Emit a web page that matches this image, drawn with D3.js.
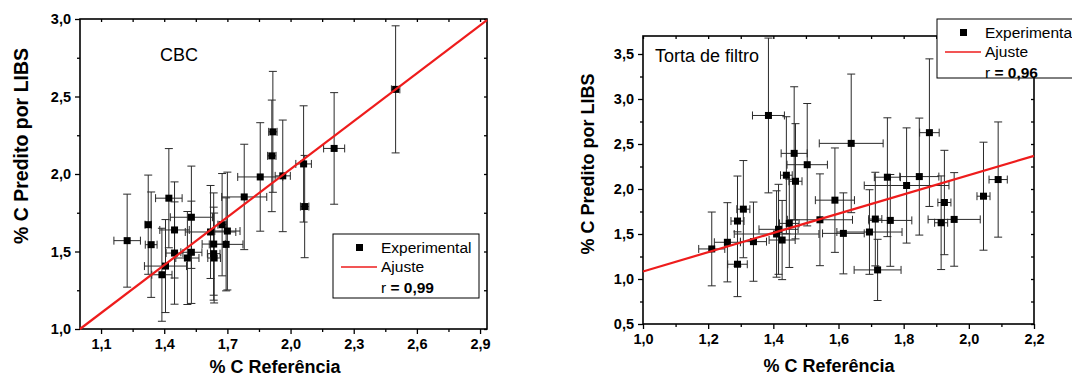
<!DOCTYPE html>
<html>
<head>
<meta charset="utf-8">
<script src="https://cdn.jsdelivr.net/npm/d3@7"></script>
<style>
  body { margin: 0; background: #fff; }
  svg { font-family: "Liberation Sans", Arial, sans-serif; }
</style>
</head>
<body>
<div id="chart"></div>
<script>
// CBC panel
const cbcRef      = [1.224, 1.324, 1.338, 1.422, 1.449, 1.449, 1.406, 1.389, 1.529, 1.510, 1.529, 1.620, 1.635, 1.635,
                     1.637, 1.675, 1.700, 1.694, 1.780, 1.856, 1.916, 1.911, 1.963, 2.062, 2.067, 2.207, 2.499];
const cbcPred     = [1.570, 1.673, 1.544, 1.844, 1.639, 1.490, 1.406, 1.350, 1.721, 1.458, 1.495, 1.626, 1.548, 1.486,
                     1.458, 1.673, 1.632, 1.546, 1.852, 1.981, 2.272, 2.117, 1.988, 2.065, 1.790, 2.165, 2.546];
const cbcRefErr   = [0.063, 0.015, 0.028, 0.063, 0.070, 0.040, 0.100, 0.048, 0.100, 0.055, 0.050, 0.120, 0.055, 0.030,
                     0.030, 0.020, 0.060, 0.080, 0.107, 0.107, 0.020, 0.020, 0.036, 0.037, 0.020, 0.050, 0.020];
const cbcPredErr  = [0.30, 0.32, 0.34, 0.32, 0.31, 0.33, 0.30, 0.30, 0.33, 0.30, 0.33, 0.30, 0.33, 0.30,
                     0.29, 0.33, 0.38, 0.30, 0.34, 0.35, 0.39, 0.36, 0.36, 0.375, 0.33, 0.36, 0.41];
const cbcFit      = [-0.031, 1.031];   // intercept, slope
const cbcXTicks   = [1.1, 1.4, 1.7, 2.0, 2.3, 2.6, 2.9];
const cbcXMinor   = [1.25, 1.55, 1.85, 2.15, 2.45, 2.75];
const cbcYTicks   = [1.0, 1.5, 2.0, 2.5, 3.0];
const cbcYMinor   = [1.25, 1.75, 2.25, 2.75];

// Torta de filtro panel
const tortaRef     = [1.211, 1.259, 1.290, 1.308, 1.290, 1.339, 1.410, 1.416, 1.427, 1.449, 1.543, 1.385, 1.464, 1.504,
                      1.440, 1.468, 1.639, 1.589, 1.615, 1.879, 1.750, 1.848, 1.809, 2.090, 2.045, 1.925, 1.955, 1.915,
                      1.713, 1.759, 1.695, 1.720];
const tortaPred    = [1.334, 1.408, 1.644, 1.776, 1.164, 1.415, 1.500, 1.552, 1.433, 1.618, 1.658, 2.817, 2.396, 2.270,
                      2.153, 2.086, 2.507, 1.876, 1.507, 2.626, 2.131, 2.138, 2.039, 2.105, 1.920, 1.850, 1.662, 1.625,
                      1.666, 1.651, 1.522, 1.101];
const tortaRefErr  = [0.040, 0.040, 0.020, 0.020, 0.030, 0.040, 0.130, 0.060, 0.040, 0.030, 0.100, 0.049, 0.040, 0.062,
                      0.018, 0.020, 0.098, 0.060, 0.064, 0.030, 0.040, 0.060, 0.130, 0.028, 0.020, 0.020, 0.080, 0.020,
                      0.020, 0.066, 0.100, 0.072];
const tortaPredErr = [0.41, 0.44, 0.50, 0.54, 0.36, 0.44, 0.48, 0.50, 0.44, 0.49, 0.51, 0.86, 0.74, 0.68,
                      0.65, 0.64, 0.77, 0.58, 0.45, 0.82, 0.66, 0.65, 0.64, 0.64, 0.60, 0.58, 0.52, 0.52,
                      0.52, 0.51, 0.47, 0.34];
const tortaFit     = [0.014, 1.070];
const tortaXTicks  = [1.0, 1.2, 1.4, 1.6, 1.8, 2.0, 2.2];
const tortaXMinor  = [1.1, 1.3, 1.5, 1.7, 1.9, 2.1];
const tortaYTicks  = [0.5, 1.0, 1.5, 2.0, 2.5, 3.0, 3.5];
const tortaYMinor  = [0.75, 1.25, 1.75, 2.25, 2.75, 3.25];

const fmt = d => d3.format(".1f")(d).replace(".", ",");

const svg = d3.select("#chart").append("svg")
  .attr("width", 1072)
  .attr("height", 378);

function drawPanel(p) {
  const x = d3.scaleLinear().domain(p.xDomain).range([p.left, p.right]);
  const y = d3.scaleLinear().domain(p.yDomain).range([p.bottom, p.top]);
  const g = svg.append("g");

  // minor + major ticks, outward on bottom/left
  g.append("g").attr("transform", "translate(0," + p.bottom + ")")
    .call(d3.axisBottom(x).tickValues(p.xTicks).tickFormat(fmt).tickSize(5).tickPadding(5));
  g.append("g").attr("transform", "translate(0," + p.bottom + ")")
    .call(d3.axisBottom(x).tickValues(p.xMinor).tickFormat("").tickSize(3));
  g.append("g").attr("transform", "translate(" + p.left + ",0)")
    .call(d3.axisLeft(y).tickValues(p.yTicks).tickFormat(fmt).tickSize(5).tickPadding(4));
  g.append("g").attr("transform", "translate(" + p.left + ",0)")
    .call(d3.axisLeft(y).tickValues(p.yMinor).tickFormat("").tickSize(3));
  // inward ticks on top/right
  g.append("g").attr("transform", "translate(0," + p.top + ")")
    .call(d3.axisTop(x).tickValues(p.xTicks.concat(p.xMinor)).tickFormat("").tickSize(-3));
  g.append("g").attr("transform", "translate(" + p.right + ",0)")
    .call(d3.axisRight(y).tickValues(p.yTicks.concat(p.yMinor)).tickFormat("").tickSize(-3));

  g.selectAll(".domain").remove();
  g.selectAll(".tick line").attr("stroke", "#000").attr("stroke-width", 1.3);
  g.selectAll(".tick text")
    .attr("font-family", "Liberation Sans, Arial, sans-serif")
    .attr("font-size", 14.5).attr("font-weight", "bold").attr("fill", "#000");

  g.append("rect")
    .attr("x", p.left).attr("y", p.top)
    .attr("width", p.right - p.left).attr("height", p.bottom - p.top)
    .attr("fill", "none").attr("stroke", "#000").attr("stroke-width", 1.6);

  const data = p.ref.map((r, i) => ({ x: r, y: p.pred[i], ex: p.refErr[i], ey: p.predErr[i] }));
  const eb = g.append("g").attr("stroke", "#2a2a2a").attr("stroke-width", 1);
  const cap = 4;
  data.forEach(d => {
    const cx = x(d.x), cy = y(d.y);
    const y0 = y(d.y - d.ey), y1 = y(d.y + d.ey);
    const x0 = x(d.x - d.ex), x1 = x(d.x + d.ex);
    eb.append("line").attr("x1", cx).attr("x2", cx).attr("y1", y0).attr("y2", y1);
    eb.append("line").attr("x1", cx - cap).attr("x2", cx + cap).attr("y1", y0).attr("y2", y0);
    eb.append("line").attr("x1", cx - cap).attr("x2", cx + cap).attr("y1", y1).attr("y2", y1);
    eb.append("line").attr("x1", x0).attr("x2", x1).attr("y1", cy).attr("y2", cy);
    eb.append("line").attr("x1", x0).attr("x2", x0).attr("y1", cy - cap).attr("y2", cy + cap);
    eb.append("line").attr("x1", x1).attr("x2", x1).attr("y1", cy - cap).attr("y2", cy + cap);
  });

  g.selectAll(".pt").data(data).enter().append("rect")
    .attr("x", d => x(d.x) - 3.5).attr("y", d => y(d.y) - 3.5)
    .attr("width", 7).attr("height", 7).attr("fill", "#000");

  const fx = p.xDomain;
  g.append("line")
    .attr("x1", x(fx[0])).attr("y1", y(p.fit[0] + p.fit[1] * fx[0]))
    .attr("x2", x(fx[1])).attr("y2", y(p.fit[0] + p.fit[1] * fx[1]))
    .attr("stroke", "#ee1c1c").attr("stroke-width", 2.2);

  // titles
  g.append("text").attr("x", p.xTitle[0]).attr("y", p.xTitle[1])
    .attr("text-anchor", "middle").attr("font-size", 18).attr("font-weight", "bold")
    .text("% C Referência");
  g.append("text")
    .attr("transform", "translate(" + p.yTitle[0] + "," + p.yTitle[1] + ") rotate(-90)")
    .attr("text-anchor", "middle").attr("font-size", p.yTitleSize).attr("font-weight", "bold")
    .text("% C Predito por LIBS");
  g.append("text").attr("x", p.label[0]).attr("y", p.label[1])
    .attr("font-size", 18).text(p.name);

  // legend
  const L = p.legend;
  g.append("rect").attr("x", L.x).attr("y", L.y).attr("width", L.w).attr("height", L.h)
    .attr("fill", "#fff").attr("stroke", "#000").attr("stroke-width", 1);
  g.append("rect").attr("x", L.x + 23).attr("y", L.y + 10).attr("width", 7).attr("height", 7).attr("fill", "#000");
  g.append("text").attr("x", L.x + 48).attr("y", L.y + 19).attr("font-size", 15.5).text("Experimental");
  g.append("line").attr("x1", L.x + 8).attr("x2", L.x + 44).attr("y1", L.y + 33).attr("y2", L.y + 33)
    .attr("stroke", "#ee1c1c").attr("stroke-width", 1.5);
  g.append("text").attr("x", L.x + 48).attr("y", L.y + 38).attr("font-size", 15.5).text("Ajuste");
  const r = g.append("text").attr("x", L.x + 48).attr("y", L.y + 59).attr("font-size", 15.5);
  r.append("tspan").text("r ");
  r.append("tspan").attr("font-weight", "bold").text("= " + p.r);
}

drawPanel({
  name: "CBC", r: "0,99",
  ref: cbcRef, pred: cbcPred, refErr: cbcRefErr, predErr: cbcPredErr, fit: cbcFit,
  xDomain: [1.0, 2.933], yDomain: [1.0, 3.0],
  xTicks: cbcXTicks, xMinor: cbcXMinor, yTicks: cbcYTicks, yMinor: cbcYMinor,
  left: 80, right: 487, top: 19, bottom: 329,
  xTitle: [275, 373], yTitle: [28, 146], yTitleSize: 19.5, label: [160, 61],
  legend: { x: 333, y: 234, w: 146, h: 64 }
});

drawPanel({
  name: "Torta de filtro", r: "0,96",
  ref: tortaRef, pred: tortaPred, refErr: tortaRefErr, predErr: tortaPredErr, fit: tortaFit,
  xDomain: [1.0, 2.2], yDomain: [0.5, 3.7],
  xTicks: tortaXTicks, xMinor: tortaXMinor, yTicks: tortaYTicks, yMinor: tortaYMinor,
  left: 643, right: 1034, top: 36, bottom: 324,
  xTitle: [829, 372], yTitle: [594, 164], yTitleSize: 18, label: [655, 62],
  legend: { x: 937, y: 19, w: 150, h: 59 }
});
</script>
</body>
</html>
